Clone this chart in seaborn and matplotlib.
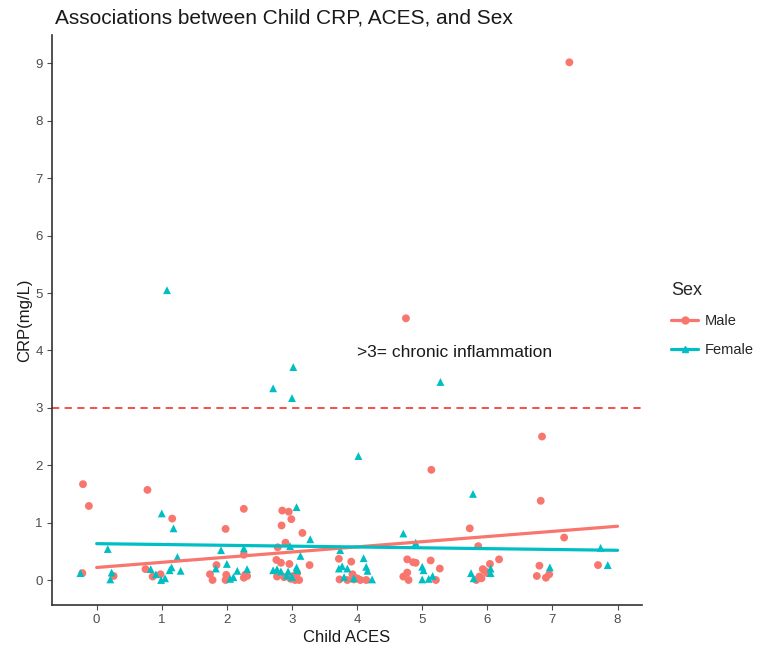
import numpy as np
import pandas as pd
import matplotlib
matplotlib.use("Agg")
import matplotlib.pyplot as plt
from matplotlib.lines import Line2D
import seaborn as sns

# ---- data (jittered ACES positions) ----
male_aces = [-0.21, -0.12, -0.22, 0.26,
             0.78, 1.16, 0.75, 0.86, 0.98,
             2.26, 1.98, 2.26, 1.84, 1.74, 1.78, 1.99, 1.98, 2.28, 2.26, 2.31,
             2.85, 2.95, 2.99, 2.84, 3.16, 2.90, 2.78, 2.76, 2.83, 2.96, 2.88, 2.77, 3.02, 3.05, 3.11, 3.27,
             2.98, 3.08,
             3.72, 3.91, 3.73, 3.85, 3.95, 4.05, 4.14, 3.93, 4.00,
             4.75, 5.14, 4.77, 4.86, 4.90, 5.13, 5.27, 4.71, 4.79, 4.77, 5.21,
             5.73, 5.86, 6.18, 6.04, 5.93, 5.96, 6.00, 5.88, 5.83, 5.91,
             7.26, 6.84, 6.82, 7.18, 6.80, 6.76, 6.95, 6.90,
             7.70]
male_crp = [1.67, 1.29, 0.12, 0.07,
            1.57, 1.07, 0.19, 0.06, 0.10,
            1.24, 0.89, 0.44, 0.26, 0.10, 0.00, 0.09, 0.00, 0.09, 0.04, 0.07,
            1.21, 1.19, 1.06, 0.95, 0.82, 0.65, 0.57, 0.35, 0.30, 0.28, 0.05, 0.06, 0.07, 0.00, 0.00, 0.26,
            0.02, 0.12,
            0.37, 0.32, 0.01, 0.00, 0.01, 0.00, 0.00, 0.10, 0.03,
            4.56, 1.92, 0.36, 0.31, 0.30, 0.34, 0.20, 0.06, 0.00, 0.13, 0.00,
            0.90, 0.59, 0.36, 0.28, 0.19, 0.16, 0.12, 0.06, 0.00, 0.03,
            9.02, 2.50, 1.38, 0.74, 0.25, 0.07, 0.10, 0.04,
            0.26]

female_aces = [1.08, 2.71, 3.02, 3.00, 5.28, 4.02, 5.78,
               0.17, -0.25, 0.23, 0.21,
               1.00, 1.18, 1.24, 0.83, 0.91, 0.99, 1.12, 1.15, 1.29, 1.05,
               1.91, 2.26, 1.83, 2.00, 2.05, 2.16, 2.31, 2.10,
               3.07, 3.28, 2.97, 3.13, 2.71, 2.77, 2.83, 2.94, 3.07, 3.08, 3.00, 2.92,
               3.74, 3.72, 3.77, 3.85, 4.10, 4.14, 4.16, 3.80, 4.23, 3.95,
               4.71, 4.90, 5.00, 5.02, 5.00, 5.16, 5.10,
               5.75, 5.79, 6.05, 6.05,
               6.96,
               7.74, 7.85]
female_crp = [5.05, 3.34, 3.71, 3.17, 3.45, 2.16, 1.50,
              0.54, 0.12, 0.13, 0.01,
              1.16, 0.90, 0.40, 0.19, 0.10, 0.00, 0.17, 0.22, 0.16, 0.03,
              0.52, 0.55, 0.20, 0.28, 0.02, 0.16, 0.19, 0.05,
              1.27, 0.71, 0.59, 0.42, 0.17, 0.19, 0.15, 0.15, 0.22, 0.17, 0.05, 0.08,
              0.52, 0.20, 0.24, 0.20, 0.38, 0.23, 0.16, 0.05, 0.01, 0.03,
              0.81, 0.65, 0.23, 0.17, 0.01, 0.07, 0.02,
              0.12, 0.03, 0.20, 0.12,
              0.22,
              0.56, 0.26]

sex_levels = ["Male", "Female"]
x_ticks = list(range(0, 9))
y_ticks = list(range(0, 10))
threshold = 3
annotation = ">3= chronic inflammation"

df = pd.DataFrame({
    "aces": male_aces + female_aces,
    "crp": male_crp + female_crp,
    "sex": ["Male"] * len(male_aces) + ["Female"] * len(female_aces),
})
df["aces_int"] = df["aces"].round()

colors = {"Male": "#F8766D", "Female": "#00BFC4"}
markers = {"Male": "o", "Female": "^"}

sns.set_theme(style="ticks")
plt.rcParams["font.family"] = ["Liberation Sans", "DejaVu Sans"]

fig = plt.figure(figsize=(7.61, 6.51), dpi=100)
ax = fig.add_axes([0.068, 0.0707, 0.776, 0.875])

sns.scatterplot(data=df, x="aces", y="crp", hue="sex", style="sex",
                hue_order=sex_levels, style_order=sex_levels,
                palette=colors, markers=markers, s=32, linewidth=0,
                legend=False, ax=ax, zorder=3)

for sx in sex_levels:
    sub = df[df["sex"] == sx]
    sns.regplot(data=sub, x="aces_int", y="crp", scatter=False, ci=None,
                color=colors[sx], line_kws={"linewidth": 2.3, "zorder": 4}, ax=ax)

ax.axhline(threshold, color="#F0443C", linestyle=(0, (4, 3)), linewidth=1.3, zorder=2)
ax.text(5.5, 3.97, annotation, ha="center", va="center", fontsize=12.5, color="#1a1a1a")

ax.set_xlim(-0.69, 8.38)
ax.set_ylim(-0.435, 9.49)
ax.set_xticks(x_ticks)
ax.set_yticks(y_ticks)
ax.set_xlabel("Child ACES", fontsize=12, color="#1a1a1a", labelpad=3)
ax.set_ylabel("CRP(mg/L)", fontsize=12, color="#1a1a1a", labelpad=2)
ax.tick_params(axis="both", labelsize=9.5, colors="#4D4D4D", length=3.5, width=0.8, pad=3)
for lab in ax.get_xticklabels() + ax.get_yticklabels():
    lab.set_color("#4D4D4D")
for side in ["top", "right"]:
    ax.spines[side].set_visible(False)
for side in ["left", "bottom"]:
    ax.spines[side].set_color("#333333")
    ax.spines[side].set_linewidth(1.2)

fig.text(0.072, 0.972, "Associations between Child CRP, ACES, and Sex",
         fontsize=15, ha="left", va="center", color="#1a1a1a")

handles = [Line2D([0], [0], color=colors[s], marker=markers[s], markersize=5,
                  linewidth=2.3, label=s) for s in sex_levels]
leg = fig.legend(handles=handles, title="Sex", loc="center left",
                 bbox_to_anchor=(0.865, 0.509), frameon=False, fontsize=10.5,
                 title_fontsize=13, handlelength=1.8, labelspacing=1.05,
                 handletextpad=0.5, alignment="left")

fig.savefig("out.png", dpi=100)
